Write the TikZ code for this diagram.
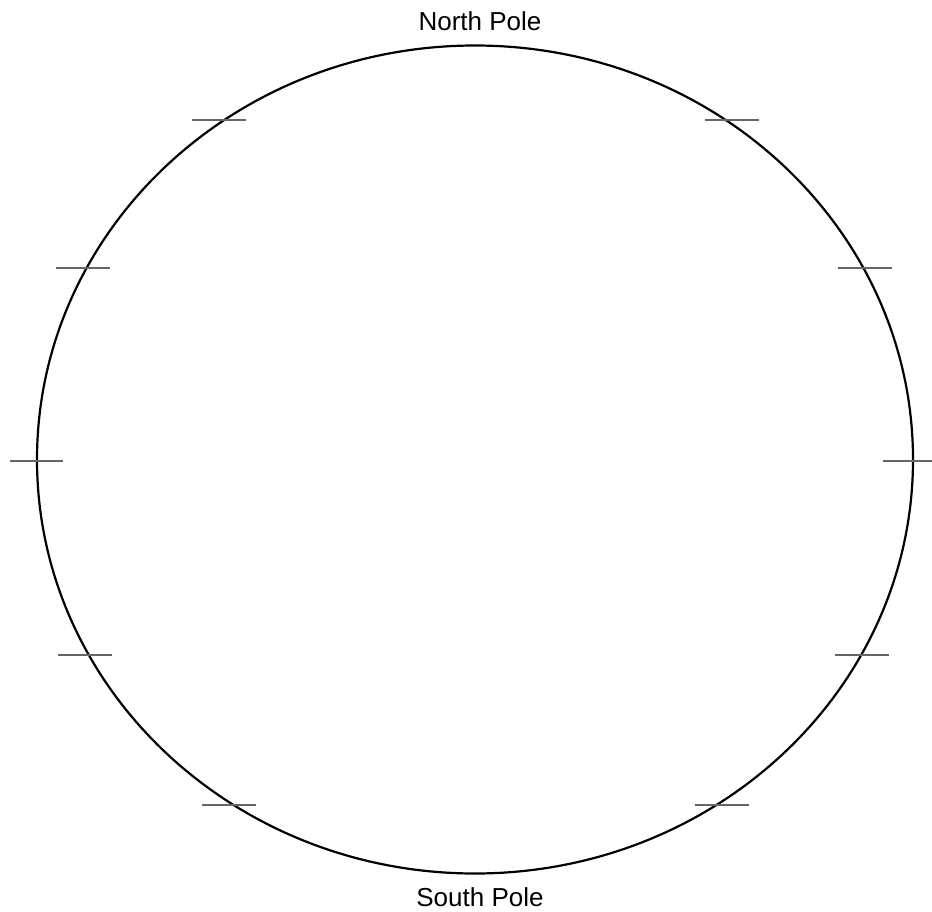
\documentclass[tikz,border=0pt]{standalone}
\usepackage{fontspec}
\setmainfont{Liberation Sans}
\begin{document}
\begin{tikzpicture}[x=1pt,y=-1pt,
  rim/.style={draw=black,line width=2.2pt},
  tick/.style={draw=black!60,line width=2pt},
  polelabel/.style={font=\fontsize{26}{30}\selectfont,anchor=base,inner sep=0pt}]
\useasboundingbox (0,0) rectangle (932,911);
\draw[rim] (475,459.5) ellipse [x radius=438, y radius=414];
\node[polelabel] (north) at (480,30) {North Pole};
\node[polelabel] (south) at (480,906) {South Pole};
\draw[tick] (10,461) -- (63,461);
\draw[tick] (883,461) -- (936,461);
\draw[tick] (192,120) -- (246,120);
\draw[tick] (705,120) -- (759,120);
\draw[tick] (56,268) -- (110,268);
\draw[tick] (838,268) -- (892,268);
\draw[tick] (58,655) -- (112,655);
\draw[tick] (835,655) -- (889,655);
\draw[tick] (202,805) -- (256,805);
\draw[tick] (695,805) -- (749,805);
\end{tikzpicture}
\end{document}
